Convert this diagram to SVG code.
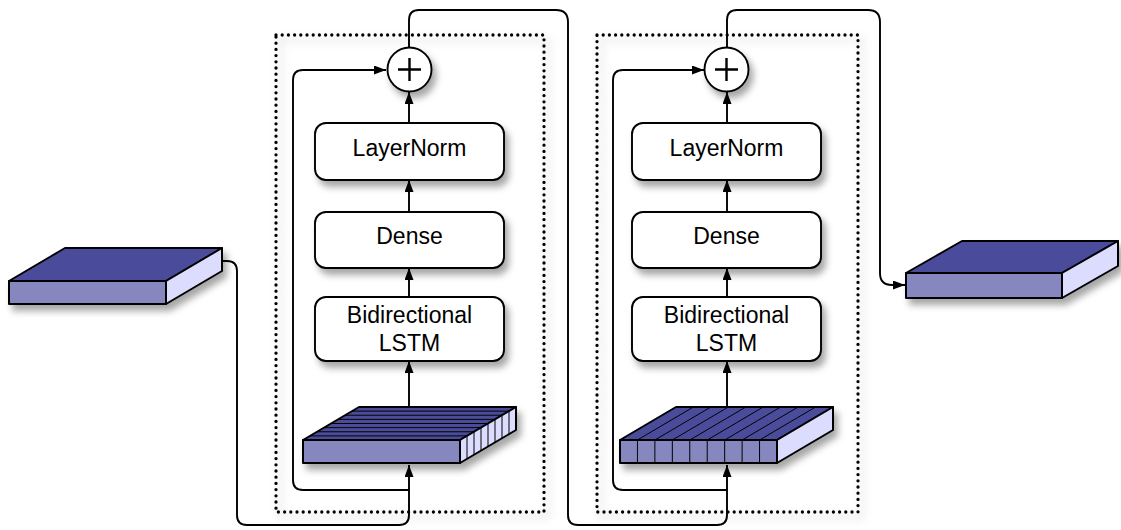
<svg xmlns="http://www.w3.org/2000/svg" width="1121" height="530" viewBox="0 0 1121 530">
  <style>
    .box { fill: #ffffff; stroke: #000000; stroke-width: 1.9; }
    .lbl { font-family: "Liberation Sans", Arial, sans-serif; font-size: 23px; fill: #000000; text-anchor: middle; }
    .arr { fill: none; stroke: #000000; stroke-width: 1.9; marker-end: url(#head); }
    .dots { fill: none; stroke: #000000; stroke-width: 3.3; stroke-dasharray: 0 6.2; stroke-linecap: round; }
    .top { fill: #4b4c9c; stroke: #000000; stroke-width: 2; stroke-linejoin: round; }
    .front { fill: #8787bf; stroke: #000000; stroke-width: 2; stroke-linejoin: round; }
    .side { fill: #dcdcff; stroke: #000000; stroke-width: 2; stroke-linejoin: round; }
    .cut { stroke: #000000; stroke-width: 1; fill: none; }
    .plus { stroke: #000000; stroke-width: 2.4; fill: none; }
  </style>
  <defs>
    <marker id="head" viewBox="0 0 12 9" refX="12" refY="4.5" markerWidth="12" markerHeight="9" markerUnits="userSpaceOnUse" orient="auto">
      <path d="M0,0 L12,4.5 L0,9 Z" fill="#000000"/>
    </marker>
    <filter id="shadow" x="-20%" y="-20%" width="150%" height="170%">
      <feDropShadow dx="4" dy="6" stdDeviation="3.5" flood-color="#000000" flood-opacity="0.35"/>
    </filter>
    <filter id="haze" x="-10%" y="-10%" width="120%" height="120%">
      <feDropShadow dx="4" dy="5" stdDeviation="4" flood-color="#000000" flood-opacity="0.25"/>
    </filter>
    <!-- plain 3-D slab: front face, top face, right face -->
    <g id="slab">
      <polygon class="top" points="0,33 56,0 213,0 157,33"/>
      <polygon class="side" points="157,33 213,0 213,23 157,56"/>
      <rect class="front" x="0" y="33" width="157" height="23"/>
    </g>
  </defs>

  <!-- dotted block frames -->
  <g id="frame1">
    <rect class="dots" x="276" y="35" width="268" height="477" filter="url(#haze)"/>
  </g>
  <g id="frame2">
    <rect class="dots" x="597" y="35" width="261" height="477" filter="url(#haze)"/>
  </g>

  <!-- connectors -->
  <g id="connectors">
    <!-- input slab into block 1 -->
    <path class="arr" d="M222,261 H227 Q237,261 237,271 V515 Q237,525 247,525 H399 Q409,525 409,515 V465"/>
    <!-- block 1 residual -->
    <path class="arr" d="M409,490 H303 Q293,490 293,480 V80 Q293,70 303,70 H386"/>
    <!-- block 1 stack -->
    <path class="arr" d="M409,407 V361"/>
    <path class="arr" d="M409,297 V268"/>
    <path class="arr" d="M409,212 V180"/>
    <path class="arr" d="M409,123 V92"/>
    <!-- block 1 output into block 2 -->
    <path class="arr" d="M409,48 V20 Q409,10 419,10 H556 Q568,10 568,22 V515 Q568,525 578,525 H717 Q727,525 727,515 V465"/>
    <!-- block 2 residual -->
    <path class="arr" d="M727,490 H623 Q613,490 613,480 V80 Q613,70 623,70 H704"/>
    <!-- block 2 stack -->
    <path class="arr" d="M727,407 V361"/>
    <path class="arr" d="M727,297 V268"/>
    <path class="arr" d="M727,212 V180"/>
    <path class="arr" d="M727,123 V92"/>
    <!-- block 2 output -->
    <path class="arr" d="M727,48 V20 Q727,10 737,10 H868 Q880,10 880,22 V273 Q880,285 892,285 H905"/>
  </g>

  <!-- input tensor -->
  <g id="input" filter="url(#shadow)">
    <use href="#slab" transform="translate(9,248)"/>
  </g>

  <!-- block 1 -->
  <g id="seq1" filter="url(#shadow)" transform="translate(303,407)">
    <polygon class="top" points="0,33 56,0 213,0 157,33"/>
    <polygon class="side" points="157,33 213,0 213,23 157,56"/>
    <rect class="front" x="0" y="33" width="157" height="23"/>
    <path class="cut" d="M7,28.9 H164 M14,24.75 H171 M21,20.6 H178 M28,16.5 H185 M35,12.4 H192 M42,8.25 H199 M49,4.1 H206"/>
    <path class="cut" d="M164,28.9 V51.9 M171,24.75 V47.75 M178,20.6 V43.6 M185,16.5 V39.5 M192,12.4 V35.4 M199,8.25 V31.25 M206,4.1 V27.1"/>
  </g>
  <g id="lstm1">
    <rect class="box" x="315" y="297" width="189" height="64" rx="11" filter="url(#shadow)"/>
    <text class="lbl" x="409.5" y="323">Bidirectional</text>
    <text class="lbl" x="409.5" y="350.5">LSTM</text>
  </g>
  <g id="dense1">
    <rect class="box" x="315" y="212" width="189" height="56" rx="11" filter="url(#shadow)"/>
    <text class="lbl" x="409.5" y="244">Dense</text>
  </g>
  <g id="norm1">
    <rect class="box" x="315" y="123" width="189" height="57" rx="11" filter="url(#shadow)"/>
    <text class="lbl" x="409.5" y="156">LayerNorm</text>
  </g>
  <g id="add1">
    <circle class="box" cx="409.5" cy="69.5" r="22" filter="url(#shadow)"/>
    <path class="plus" d="M398,69.5 H421 M409.5,58 V81"/>
  </g>

  <!-- block 2 -->
  <g id="seq2" filter="url(#shadow)" transform="translate(620,407)">
    <polygon class="top" points="0,33 56,0 213,0 157,33"/>
    <polygon class="side" points="157,33 213,0 213,23 157,56"/>
    <rect class="front" x="0" y="33" width="157" height="23"/>
    <path class="cut" d="M17.44,33 V56 M34.89,33 V56 M52.33,33 V56 M69.78,33 V56 M87.22,33 V56 M104.67,33 V56 M122.11,33 V56 M139.56,33 V56"/>
    <path class="cut" d="M17.44,33 L73.44,0 M34.89,33 L90.89,0 M52.33,33 L108.33,0 M69.78,33 L125.78,0 M87.22,33 L143.22,0 M104.67,33 L160.67,0 M122.11,33 L178.11,0 M139.56,33 L195.56,0"/>
  </g>
  <g id="lstm2">
    <rect class="box" x="632" y="297" width="189" height="64" rx="11" filter="url(#shadow)"/>
    <text class="lbl" x="726.5" y="323">Bidirectional</text>
    <text class="lbl" x="726.5" y="350.5">LSTM</text>
  </g>
  <g id="dense2">
    <rect class="box" x="632" y="212" width="189" height="56" rx="11" filter="url(#shadow)"/>
    <text class="lbl" x="726.5" y="244">Dense</text>
  </g>
  <g id="norm2">
    <rect class="box" x="632" y="123" width="189" height="57" rx="11" filter="url(#shadow)"/>
    <text class="lbl" x="726.5" y="156">LayerNorm</text>
  </g>
  <g id="add2">
    <circle class="box" cx="726.5" cy="69.5" r="22" filter="url(#shadow)"/>
    <path class="plus" d="M715,69.5 H738 M726.5,58 V81"/>
  </g>

  <!-- output tensor -->
  <g id="output" filter="url(#shadow)">
    <polygon class="top" points="906,273 962,241 1118,241 1062,273"/>
    <polygon class="side" points="1062,273 1118,241 1118,266 1062,298"/>
    <rect class="front" x="906" y="273" width="156" height="25"/>
  </g>
</svg>
